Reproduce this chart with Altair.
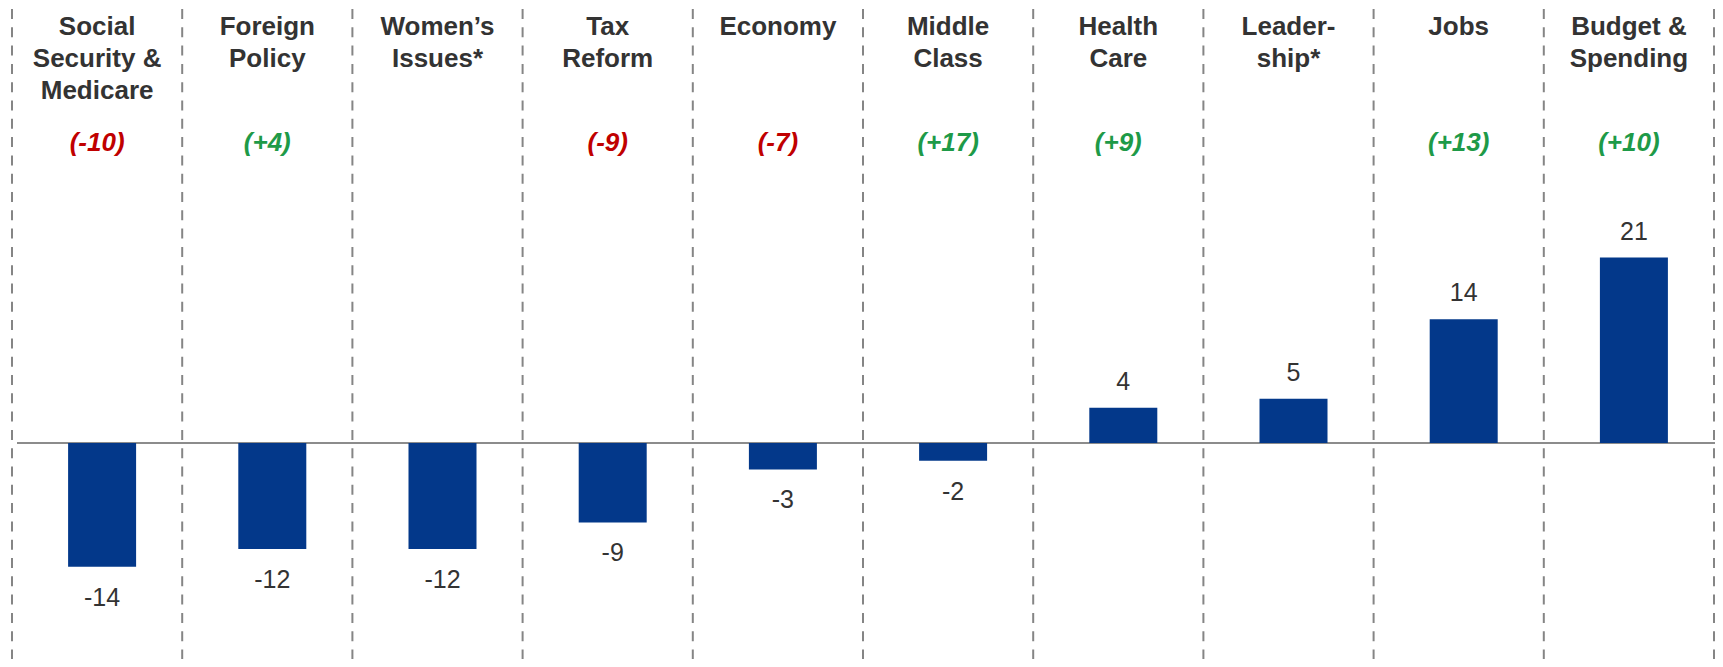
import altair as alt
import pandas as pd

categories = [
    "Social\nSecurity &\nMedicare", "Foreign\nPolicy", "Women\u2019s\nIssues*", "Tax\nReform",
    "Economy", "Middle\nClass", "Health\nCare", "Leader-\nship*", "Jobs", "Budget &\nSpending",
]
values = [-14, -12, -12, -9, -3, -2, 4, 5, 14, 21]
changes = ["(-10)", "(+4)", "", "(-9)", "(-7)", "(+17)", "(+9)", "", "(+13)", "(+10)"]

df = pd.DataFrame({"cat": categories, "value": values, "change": changes})
df["sign"] = ["neg" if c.startswith("(-") else "pos" for c in changes]

FONT = "Liberation Sans"
W, H = 1707, 651

xs = alt.Scale(domain=categories, range=[4, 1706], paddingInner=0, paddingOuter=0)
ys = alt.Scale(domain=[-24.46, 49.26])
X = alt.X("cat:N", sort=categories, scale=xs, axis=None)

base = alt.Chart(df).transform_calculate(lbl="'' + datum.value")

sep = base.mark_rule(color="#858585", strokeWidth=2, strokeDash=[10, 8.3]).encode(
    x=alt.X("cat:N", sort=categories, scale=xs, axis=None, bandPosition=0),
    y=alt.value(1), y2=alt.value(H),
)
sep_last = base.transform_filter(alt.datum.cat == categories[-1]).mark_rule(
    color="#858585", strokeWidth=2, strokeDash=[10, 8.3]).encode(
    x=alt.X("cat:N", sort=categories, scale=xs, axis=None, bandPosition=1),
    y=alt.value(1), y2=alt.value(H),
)

zero = alt.Chart(pd.DataFrame({"z": [0]})).mark_rule(color="#8c8c8c", strokeWidth=2).encode(
    y=alt.Y("z:Q", scale=ys, axis=None), x=alt.value(9), x2=alt.value(W),
)

bars = base.mark_bar(size=68, xOffset=5, color="#03388A").encode(
    x=X, y=alt.Y("value:Q", scale=ys, axis=None),
)

pos_lbl = base.transform_filter(alt.datum.value > 0).mark_text(
    font=FONT, fontSize=25, color="#333333", baseline="alphabetic", dy=-18, xOffset=5).encode(
    x=X, y=alt.Y("value:Q", scale=ys, axis=None), text="lbl:N",
)
neg_lbl = base.transform_filter(alt.datum.value < 0).mark_text(
    font=FONT, fontSize=25, color="#333333", baseline="alphabetic", dy=39, xOffset=5).encode(
    x=X, y=alt.Y("value:Q", scale=ys, axis=None), text="lbl:N",
)

cat_lbl = base.mark_text(
    font=FONT, fontSize=26, fontWeight="bold", color="#333333", baseline="alphabetic",
    lineBreak="\n", lineHeight=32).encode(
    x=X, y=alt.value(27), text="cat:N",
)

chg_lbl = base.transform_filter(alt.datum.change != "").mark_text(
    font=FONT, fontSize=26, fontWeight="bold", fontStyle="italic", baseline="alphabetic").encode(
    x=X, y=alt.value(143), text="change:N",
    color=alt.Color("sign:N", scale=alt.Scale(domain=["neg", "pos"], range=["#C00000", "#1E9A48"]), legend=None),
)

chart = alt.layer(sep, sep_last, zero, bars, pos_lbl, neg_lbl, cat_lbl, chg_lbl).properties(
    width=W, height=H, autosize=alt.AutoSizeParams(type="none"), padding=0,
).configure_view(strokeWidth=0)

chart.save("out.html", embed_options={"renderer": "svg", "actions": False})
